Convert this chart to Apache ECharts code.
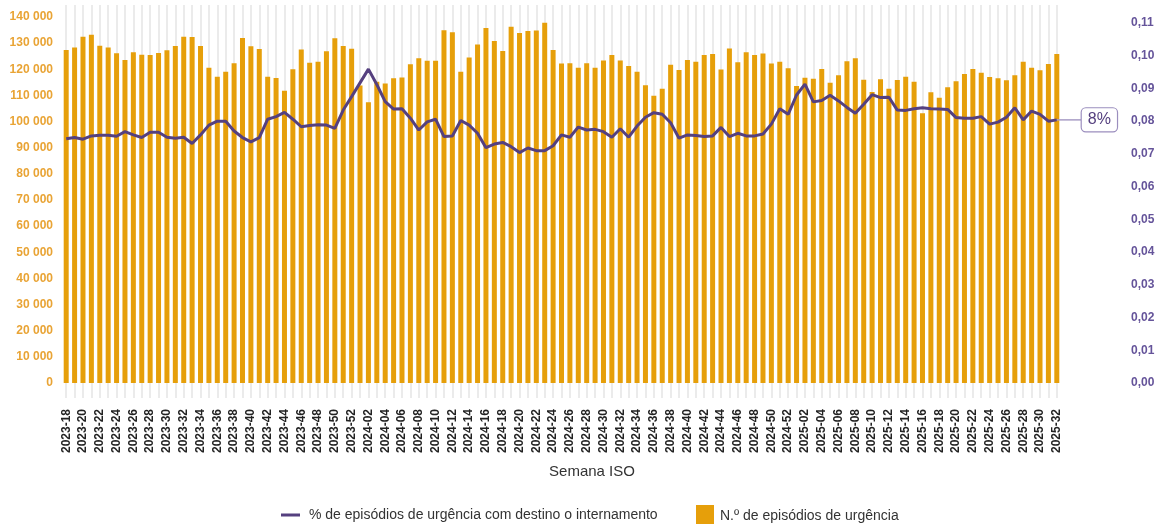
<!DOCTYPE html>
<html>
<head>
<meta charset="utf-8">
<script src="https://cdn.jsdelivr.net/npm/echarts@6/dist/echarts.min.js"></script>
<style>
  html, body { margin: 0; padding: 0; background: #fff; }
  #chart { width: 1162px; height: 524px; }
</style>
</head>
<body>
<div id="chart"></div>
<script>
// semanas ISO: 2023-18 .. 2025-32
var weekRanges = [[2023, 18, 52], [2024, 1, 52], [2025, 1, 32]]
var semanas = []
weekRanges.forEach(function (r) {
  for (var w = r[1]; w <= r[2]; w++) semanas.push(r[0] + '-' + (w < 10 ? '0' + w : w))
})

// N.º de episódios de urgência
var episodios = [
  127400, 128300, 132500, 133200, 129000, 128300, 126100, 123600, 126500, 125600,
  125500, 126200, 127300, 128900, 132500, 132400, 128900, 120600, 117200, 119100,
  122300, 132000, 128800, 127800, 117200, 116700, 111800, 120000, 127600, 122500,
  122900, 126900, 131900, 128900, 127900, 113800, 107400, 115200, 114600, 116600,
  116900, 121900, 124200, 123300, 123300, 134900, 134200, 119100, 124500, 129500,
  135800, 130800, 127000, 136300, 133900, 134700, 134800, 137800, 127400, 122200,
  122300, 120600, 122300, 120600, 123400, 125500, 123400, 121300, 119100, 113900,
  109900, 112600, 121700, 119700, 123600, 122900, 125500, 125900, 119900, 128000,
  122700, 126500, 125500, 126000, 122200, 122900, 120400, 113600, 116800, 116400,
  120100, 114900, 117700, 123100, 124200, 116000, 111300, 116200, 112600, 115900,
  117200, 115200, 103200, 111200, 109100, 113100, 115400, 118200, 120100, 118700,
  117100, 116600, 115800, 117700, 122900, 120600, 119600, 122000, 125900
]

// % de episódios de urgência com destino o internamento
var internamento = [
  0.0746, 0.0750, 0.0745, 0.0755, 0.0757, 0.0757, 0.0754, 0.0768, 0.0758, 0.0750,
  0.0766, 0.0766, 0.0751, 0.0748, 0.0751, 0.0732, 0.0758, 0.0788, 0.0800, 0.0800,
  0.0770, 0.0750, 0.0737, 0.0750, 0.0806, 0.0814, 0.0827, 0.0806, 0.0783, 0.0787,
  0.0789, 0.0788, 0.0778, 0.0834, 0.0875, 0.0917, 0.0959, 0.0912, 0.0860, 0.0837,
  0.0838, 0.0809, 0.0773, 0.0798, 0.0806, 0.0753, 0.0755, 0.0802, 0.0788, 0.0763,
  0.0719, 0.0730, 0.0735, 0.0722, 0.0704, 0.0718, 0.0710, 0.0710, 0.0725, 0.0758,
  0.0751, 0.0782, 0.0773, 0.0775, 0.0768, 0.0751, 0.0777, 0.0751, 0.0785, 0.0812,
  0.0826, 0.0821, 0.0795, 0.0748, 0.0758, 0.0756, 0.0753, 0.0755, 0.0781, 0.0753,
  0.0763, 0.0755, 0.0755, 0.0761, 0.0791, 0.0838, 0.0821, 0.0880, 0.0913, 0.0859,
  0.0863, 0.0879, 0.0862, 0.0842, 0.0824, 0.0852, 0.0881, 0.0872, 0.0873, 0.0834,
  0.0833, 0.0838, 0.0841, 0.0838, 0.0837, 0.0836, 0.0811, 0.0809, 0.0809, 0.0814,
  0.0791, 0.0797, 0.0812, 0.0841, 0.0804, 0.0831, 0.0821, 0.0800, 0.0804
]

var nomeLinha = '% de episódios de urgência com destino o internamento'
var nomeBarra = 'N.º de episódios de urgência'

var corBarra = '#E69F0A'
var corLinha = '#55407F'

var lastIdx = internamento.length - 1

var chart = echarts.init(document.getElementById('chart'))
chart.setOption({
  animation: false,
  textStyle: { fontFamily: 'Liberation Sans, Arial, sans-serif' },
  grid: { left: 62, right: 101, top: 5, bottom: 141 },
  legend: [
    {
      data: [nomeLinha],
      left: 276, top: 503,
      icon: 'rect', itemWidth: 19, itemHeight: 3,
      textStyle: { fontSize: 14, color: '#333', padding: [0, 0, 0, 4] }
    },
    {
      data: [nomeBarra],
      left: 691, top: 500,
      icon: 'rect', itemWidth: 18, itemHeight: 22,
      textStyle: { fontSize: 14, color: '#333', padding: [0, 0, 0, 1] }
    }
  ],
  xAxis: {
    type: 'category',
    data: semanas,
    name: 'Semana ISO',
    nameLocation: 'middle',
    nameGap: 81,
    nameTextStyle: { fontSize: 15, color: '#333', padding: [0, 0, 0, 61] },
    axisLine: { show: false },
    axisTick: {
      show: true, alignWithLabel: true, interval: 0, length: 15,
      lineStyle: { color: '#ebebeb', width: 2 }
    },
    splitLine: {
      show: true, alignWithLabel: true, interval: 0,
      lineStyle: { color: '#ebebeb', width: 2 }
    },
    axisLabel: {
      interval: 1, rotate: 90, margin: 26,
      fontSize: 12, fontWeight: 'bold', color: '#222'
    }
  },
  yAxis: [
    {
      type: 'value',
      min: 0, max: 144600, interval: 10000,
      splitLine: { show: false },
      axisLine: { show: false },
      axisTick: { show: false },
      axisLabel: {
        showMaxLabel: false, margin: 9,
        fontSize: 12, fontWeight: 'bold', color: '#E9A435',
        formatter: function (v) { return String(v).replace(/\B(?=(\d{3})+(?!\d))/g, ' ') }
      }
    },
    {
      type: 'value',
      min: 0, max: 0.1155, interval: 0.01,
      splitLine: { show: false },
      axisLine: { show: false },
      axisTick: { show: false },
      axisLabel: {
        showMaxLabel: false, margin: 70,
        fontSize: 12, fontWeight: 'bold', color: '#65549A',
        formatter: function (v) { return v.toFixed(2).replace('.', ',') }
      }
    }
  ],
  series: [
    {
      name: nomeBarra,
      type: 'bar',
      data: episodios,
      barWidth: 5,
      itemStyle: { color: corBarra }
    },
    {
      name: nomeLinha,
      type: 'line',
      yAxisIndex: 1,
      data: internamento,
      symbol: 'none',
      lineStyle: { color: corLinha, width: 3 },
      itemStyle: { color: corLinha },
      z: 3,
      markPoint: {
        silent: true,
        symbol: 'rect',
        symbolSize: [25, 1.5],
        symbolOffset: [12.5, 0],
        itemStyle: { color: '#A99DC6' },
        label: {
          show: true,
          position: 'right',
          distance: 0,
          formatter: function (p) { return Math.round(p.value * 100) + '%' },
          fontSize: 16,
          color: '#55407F',
          backgroundColor: '#fff',
          borderColor: '#9B8EBE',
          borderWidth: 1.2,
          borderRadius: 4,
          padding: [4, 6, 3, 6]
        },
        data: [{ coord: [lastIdx, internamento[lastIdx]], value: internamento[lastIdx] }]
      }
    }
  ]
})
</script>
</body>
</html>
